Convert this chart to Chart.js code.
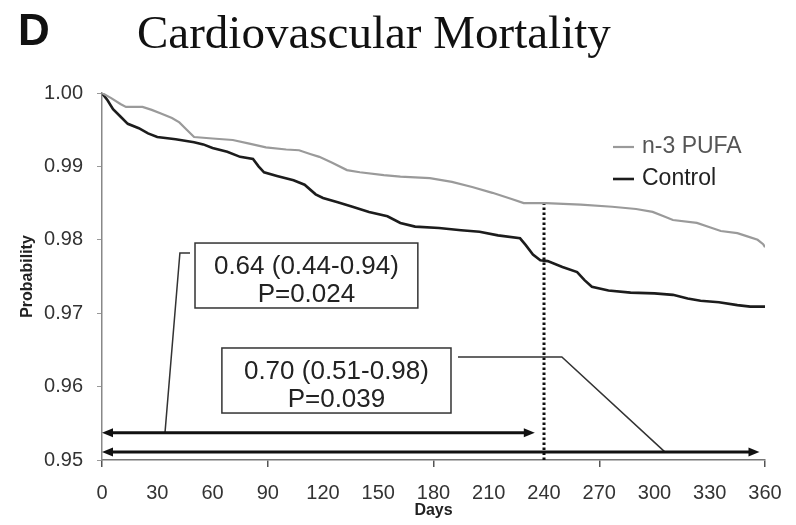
<!DOCTYPE html>
<html>
<head>
<meta charset="utf-8">
<script src="https://cdn.jsdelivr.net/npm/chart.js@4.4.1/dist/chart.umd.min.js"></script>
<style>
  html, body { margin: 0; padding: 0; background: #fff; }
  #wrap { width: 796px; height: 525px; }
</style>
</head>
<body>
<div id="wrap"><canvas id="chart" width="796" height="525"></canvas></div>
<script>
// Kaplan-Meier curves (day, probability)
const pufaDays   = [0, 5, 10, 13, 22, 27, 32, 38, 42, 46, 50, 60, 71, 80, 89, 100, 107, 113, 118, 125, 133, 140, 153, 162, 178, 190, 201, 212, 222, 229, 241, 260, 277, 290, 299, 305, 310, 323, 330, 336, 345, 350, 356, 359, 360];
const pufaProb   = [1.000, 0.9993, 0.9985, 0.9981, 0.9981, 0.9977, 0.9972, 0.9966, 0.9960, 0.9950, 0.9940, 0.9938, 0.9936, 0.9931, 0.9926, 0.9923, 0.9922, 0.9917, 0.9913, 0.9905, 0.9895, 0.9892, 0.9888, 0.9886, 0.9884, 0.9879, 0.9872, 0.9864, 0.9856, 0.9850, 0.9850, 0.9848, 0.9845, 0.9842, 0.9838, 0.9832, 0.9827, 0.9823, 0.9817, 0.9812, 0.9809, 0.9805, 0.9800, 0.9794, 0.9790];
const controlDays = [0, 3, 6, 10, 14, 20, 25, 30, 40, 50, 55, 60, 68, 75, 82, 85, 88, 95, 104, 110, 116, 120, 128, 136, 145, 155, 162, 170, 183, 195, 205, 215, 227, 230, 234, 238, 242, 250, 258, 262, 266, 275, 287, 300, 310, 318, 325, 335, 345, 352, 360];
const controlProb = [1.000, 0.9990, 0.9978, 0.9968, 0.9958, 0.9952, 0.9945, 0.9940, 0.9937, 0.9933, 0.9930, 0.9925, 0.9920, 0.9913, 0.9910, 0.9900, 0.9892, 0.9887, 0.9881, 0.9875, 0.9862, 0.9857, 0.9851, 0.9845, 0.9838, 0.9832, 0.9823, 0.9818, 0.9816, 0.9813, 0.9811, 0.9806, 0.9802, 0.9793, 0.9780, 0.9772, 0.9771, 0.9763, 0.9756, 0.9745, 0.9736, 0.9731, 0.9728, 0.9727, 0.9725, 0.9720, 0.9717, 0.9715, 0.9711, 0.9709, 0.9709];

const seriesNames = ['n-3 PUFA', 'Control'];
const yTicksMin = 0.95;
const yTicksMax = 1.00;
const xTicksMax = 360;

// annotations, in data units
const cutoffDay = 240;
const cutoffTop = 0.9849;
const arrows = [
  { from: 0, to: 235, y: 0.9537 },
  { from: 0, to: 357, y: 0.9511 }
];
const hrBoxes = [
  { lines: ['0.64 (0.44-0.94)', 'P=0.024'], x0: 50.5, x1: 171.5, y0: 0.97956, y1: 0.97071 },
  { lines: ['0.70 (0.51-0.98)', 'P=0.039'], x0: 65.1, x1: 189.5, y0: 0.96526, y1: 0.95640 }
];
const leaders = [
  [[47.8, 0.9782], [42.3, 0.9782], [34.2, 0.9537]],
  [[193.3, 0.96403], [249.7, 0.96403], [305.6, 0.9511]]
];

const toPoints = (days, probs) => days.map((d, i) => ({ x: d, y: probs[i] }));

const annotationPlugin = {
  id: 'annotations',
  afterDatasetsDraw(chart) {
    const { ctx, scales: { x, y } } = chart;
    ctx.save();

    // leader lines
    ctx.strokeStyle = '#333';
    ctx.lineWidth = 1.5;
    leaders.forEach(pts => {
      ctx.beginPath();
      pts.forEach(([d, p], i) => {
        const px = x.getPixelForValue(d), py = y.getPixelForValue(p);
        i === 0 ? ctx.moveTo(px, py) : ctx.lineTo(px, py);
      });
      ctx.stroke();
    });

    // double arrows
    ctx.strokeStyle = '#111';
    ctx.fillStyle = '#111';
    ctx.lineWidth = 3;
    arrows.forEach(a => {
      const x0 = x.getPixelForValue(a.from), x1 = x.getPixelForValue(a.to);
      const py = y.getPixelForValue(a.y);
      ctx.beginPath();
      ctx.moveTo(x0 + 6, py);
      ctx.lineTo(x1 - 6, py);
      ctx.stroke();
      [[x0, 1], [x1, -1]].forEach(([tip, dir]) => {
        ctx.beginPath();
        ctx.moveTo(tip, py);
        ctx.lineTo(tip + dir * 11, py - 4.5);
        ctx.lineTo(tip + dir * 11, py + 4.5);
        ctx.closePath();
        ctx.fill();
      });
    });

    // boxes with hazard ratios
    hrBoxes.forEach(b => {
      const bx = x.getPixelForValue(b.x0), bx1 = x.getPixelForValue(b.x1);
      const by = y.getPixelForValue(b.y0), by1 = y.getPixelForValue(b.y1);
      const w = bx1 - bx, h = by1 - by;
      ctx.fillStyle = '#fff';
      ctx.fillRect(bx, by, w, h);
      ctx.strokeStyle = '#333';
      ctx.lineWidth = 1.5;
      ctx.strokeRect(bx, by, w, h);
      ctx.fillStyle = '#222';
      ctx.font = '26px "Liberation Sans", Arial, sans-serif';
      ctx.textAlign = 'center';
      ctx.textBaseline = 'middle';
      ctx.fillText(b.lines[0], bx + w / 2, by + h * 0.36);
      ctx.fillText(b.lines[1], bx + w / 2, by + h * 0.8);
    });
    ctx.restore();
  },
  afterDraw(chart) {
    const { ctx } = chart;
    ctx.save();
    ctx.fillStyle = '#111';
    ctx.textBaseline = 'alphabetic';
    ctx.textAlign = 'left';
    ctx.font = 'bold 44px "Liberation Sans", Arial, sans-serif';
    ctx.fillText('D', 18, 45);
    ctx.font = '47px "Liberation Serif", "Times New Roman", serif';
    ctx.fillText('Cardiovascular Mortality', 137, 48);

    // legend
    const legendY = [147, 179];
    ctx.font = '23px "Liberation Sans", Arial, sans-serif';
    ctx.textBaseline = 'middle';
    seriesNames.forEach((name, i) => {
      const ds = chart.data.datasets[i];
      ctx.strokeStyle = ds.borderColor;
      ctx.lineWidth = ds.borderWidth;
      ctx.beginPath();
      ctx.moveTo(613, legendY[i]);
      ctx.lineTo(634, legendY[i]);
      ctx.stroke();
      ctx.fillStyle = i === 0 ? '#555' : '#222';
      ctx.fillText(name, 642, legendY[i]);
    });
    ctx.restore();
  }
};

new Chart(document.getElementById('chart'), {
  type: 'line',
  data: {
    datasets: [
      {
        label: seriesNames[0],
        data: toPoints(pufaDays, pufaProb),
        borderColor: '#9a9a9a',
        borderWidth: 2.2,
        pointRadius: 0,
        tension: 0
      },
      {
        label: seriesNames[1],
        data: toPoints(controlDays, controlProb),
        borderColor: '#1c1c1c',
        borderWidth: 2.6,
        pointRadius: 0,
        tension: 0
      },
      {
        label: 'cutoff',
        data: [{ x: cutoffDay, y: yTicksMin }, { x: cutoffDay, y: cutoffTop }],
        borderColor: '#111',
        borderWidth: 3,
        borderDash: [2.5, 2.5],
        pointRadius: 0
      }
    ]
  },
  options: {
    responsive: false,
    animation: false,
    layout: { padding: { left: 0, top: 93, right: 31, bottom: 0 } },
    plugins: {
      legend: { display: false },
      tooltip: { enabled: false }
    },
    scales: {
      x: {
        type: 'linear',
        min: 0,
        max: xTicksMax,
        afterFit: s => { s.height = 65; },
        ticks: {
          stepSize: 30,
          color: '#333',
          padding: 14,
          font: { family: '"Liberation Sans", Arial, sans-serif', size: 20 }
        },
        grid: {
          drawOnChartArea: false,
          tickLength: 7,
          lineWidth: 1.5,
          color: c => (c.tick && c.tick.value % 90 === 0) ? '#555' : 'rgba(0,0,0,0)'
        },
        border: { color: '#777', width: 1.5 },
        title: {
          display: true,
          text: 'Days',
          color: '#222',
          padding: { top: 0, bottom: 5 },
          font: { family: '"Liberation Sans", Arial, sans-serif', size: 16, weight: 'bold' }
        }
      },
      y: {
        min: yTicksMin,
        max: yTicksMax,
        afterFit: s => { s.width = 102; },
        ticks: {
          stepSize: 0.01,
          color: '#333',
          padding: 14,
          callback: v => Number(v).toFixed(2),
          font: { family: '"Liberation Sans", Arial, sans-serif', size: 20 }
        },
        grid: {
          drawOnChartArea: false,
          tickLength: 5,
          color: '#999'
        },
        border: { color: '#888', width: 1.5 },
        title: {
          display: true,
          text: 'Probability',
          color: '#222',
          padding: { top: 18, bottom: 0 },
          font: { family: '"Liberation Sans", Arial, sans-serif', size: 16, weight: 'bold' }
        }
      }
    }
  },
  plugins: [annotationPlugin]
});
</script>
</body>
</html>
